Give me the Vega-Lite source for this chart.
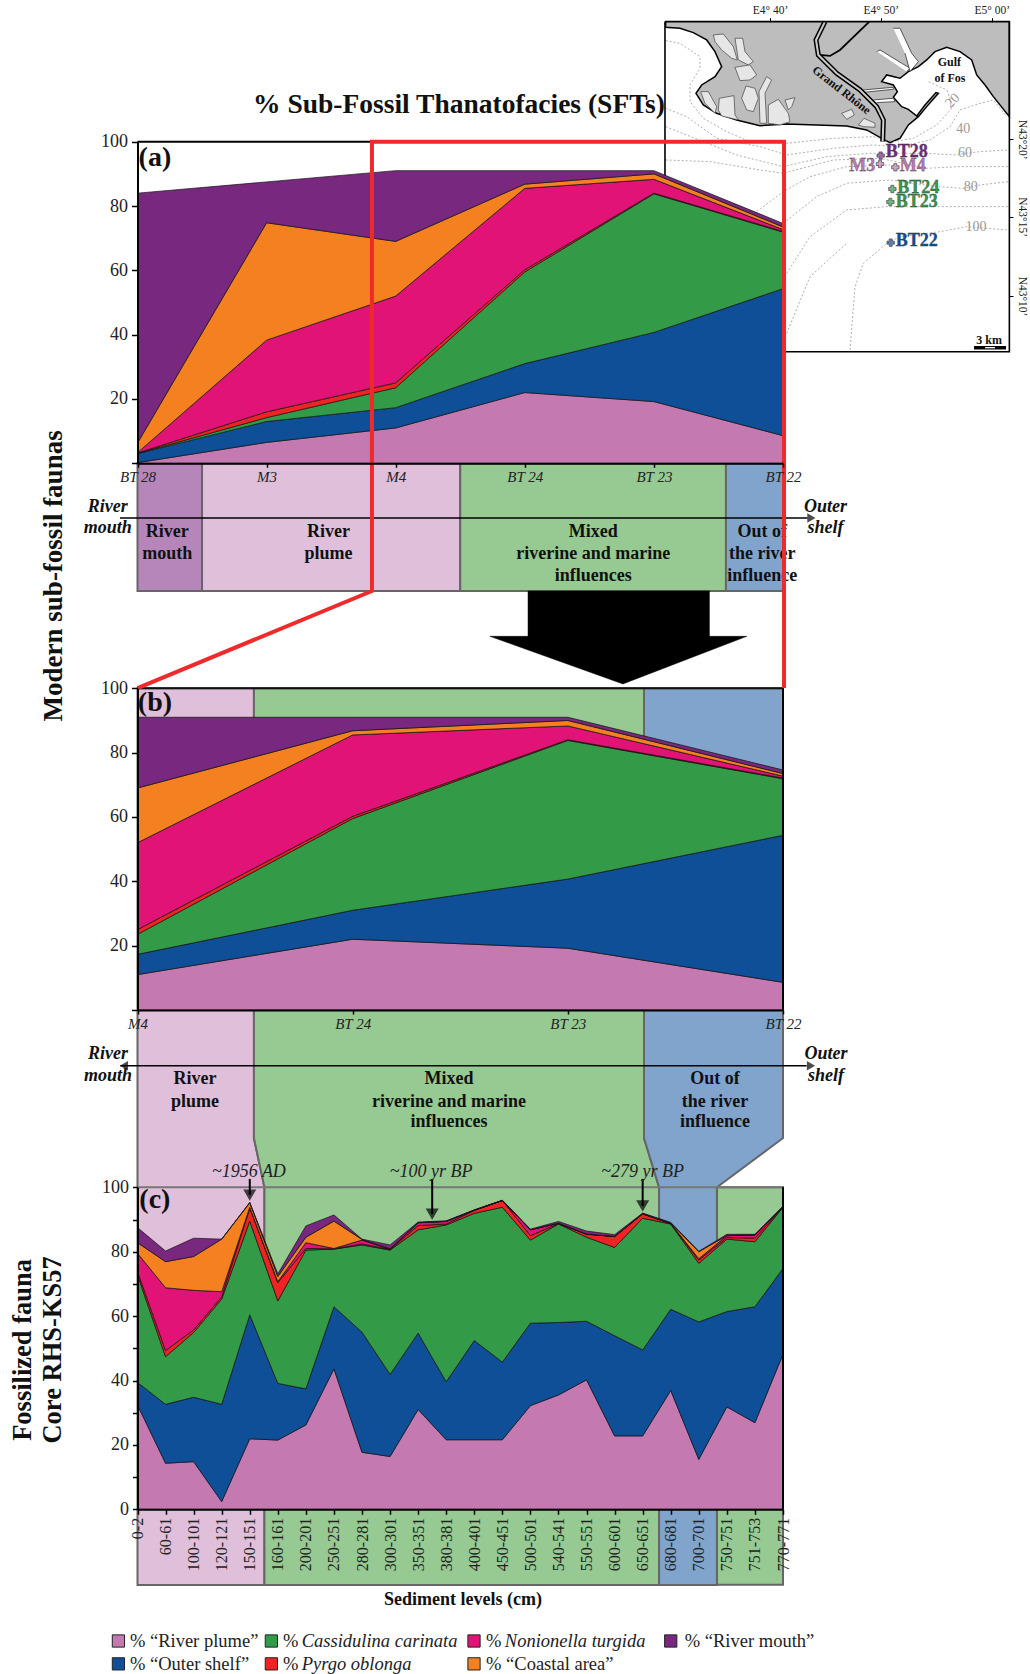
{"$schema":"https://vega.github.io/schema/vega-lite/v6.json","width":1030,"height":1674,"padding":0,"autosize":{"type":"none"},"background":"white",
"config":{"font":"Liberation Serif","view":{"stroke":null},"legend":{"disable":true},"range":{"category":["#C479B0","#0F4F98","#339B48","#EF2323","#E21376","#F58020","#78287E","#B686BA","#E0BFDB","#96CA92","#80A4CB"]},
"axis":{"grid":false,"labelFont":"Liberation Serif","labelColor":"#222","labelFlush":false,"labelBound":false,"labelOverlap":false,"domainColor":"#000","domainWidth":2,"tickColor":"#000","tickWidth":1.5}},
"datasets":{
"sites":[
{"station":"BT28","pos":0,"1 River plume":0.2,"2 Outer shelf":2.8,"3 Cassidulina carinata":0.1,"4 Pyrgo oblonga":0.1,"5 Nonionella turgida":0.1,"6 Coastal area":3,"7 River mouth":77.7},
{"station":"M3","pos":1,"1 River plume":6.5,"2 Outer shelf":6.5,"3 Cassidulina carinata":1.2,"4 Pyrgo oblonga":1.8,"5 Nonionella turgida":22.3,"6 Coastal area":36.5,"7 River mouth":12.7},
{"station":"M4","pos":2,"1 River plume":11,"2 Outer shelf":6.3,"3 Cassidulina carinata":6.2,"4 Pyrgo oblonga":1.5,"5 Nonionella turgida":27,"6 Coastal area":17,"7 River mouth":22},
{"station":"BT24","pos":3,"1 River plume":22,"2 Outer shelf":9,"3 Cassidulina carinata":28.5,"4 Pyrgo oblonga":0.7,"5 Nonionella turgida":25.3,"6 Coastal area":1.3,"7 River mouth":4.2},
{"station":"BT23","pos":4,"1 River plume":19.2,"2 Outer shelf":21.5,"3 Cassidulina carinata":43.1,"4 Pyrgo oblonga":0.2,"5 Nonionella turgida":4.3,"6 Coastal area":1.7,"7 River mouth":1},
{"station":"BT22","pos":5,"1 River plume":8.6,"2 Outer shelf":45.7,"3 Cassidulina carinata":17.6,"4 Pyrgo oblonga":0.2,"5 Nonionella turgida":0.6,"6 Coastal area":0.8,"7 River mouth":1.1}],
"levels":[
{"level":"0-2","pos":0,"1 River plume":32.4,"2 Outer shelf":7,"3 Cassidulina carinata":33.4,"4 Pyrgo oblonga":1,"5 Nonionella turgida":5.7,"6 Coastal area":3.3,"7 River mouth":4.7},
{"level":"60-61","pos":1,"1 River plume":14.3,"2 Outer shelf":18.3,"3 Cassidulina carinata":14.8,"4 Pyrgo oblonga":1.9,"5 Nonionella turgida":19.5,"6 Coastal area":8.1,"7 River mouth":3.3},
{"level":"100-101","pos":2,"1 River plume":14.8,"2 Outer shelf":20,"3 Cassidulina carinata":20.1,"4 Pyrgo oblonga":0.8,"5 Nonionella turgida":12.3,"6 Coastal area":10.5,"7 River mouth":5.7},
{"level":"120-121","pos":3,"1 River plume":2.4,"2 Outer shelf":30.2,"3 Cassidulina carinata":32.7,"4 Pyrgo oblonga":0.7,"5 Nonionella turgida":1.6,"6 Coastal area":16.3,"7 River mouth":0},
{"level":"150-151","pos":4,"1 River plume":21.9,"2 Outer shelf":38.5,"3 Cassidulina carinata":29.1,"4 Pyrgo oblonga":4,"5 Nonionella turgida":0.3,"6 Coastal area":1.4,"7 River mouth":0.1},
{"level":"160-161","pos":5,"1 River plume":21.5,"2 Outer shelf":17.6,"3 Cassidulina carinata":25.6,"4 Pyrgo oblonga":5.7,"5 Nonionella turgida":0.3,"6 Coastal area":1.6,"7 River mouth":0.8},
{"level":"200-201","pos":6,"1 River plume":26.2,"2 Outer shelf":11.2,"3 Cassidulina carinata":43.1,"4 Pyrgo oblonga":0.5,"5 Nonionella turgida":1.8,"6 Coastal area":1.7,"7 River mouth":3.5},
{"level":"250-251","pos":7,"1 River plume":43.6,"2 Outer shelf":19.3,"3 Cassidulina carinata":17.9,"4 Pyrgo oblonga":0.1,"5 Nonionella turgida":0.1,"6 Coastal area":8.5,"7 River mouth":1.9},
{"level":"280-281","pos":8,"1 River plume":17.7,"2 Outer shelf":37.3,"3 Cassidulina carinata":27.1,"4 Pyrgo oblonga":0.3,"5 Nonionella turgida":1.2,"6 Coastal area":0.2,"7 River mouth":0.1},
{"level":"300-301","pos":9,"1 River plume":16.4,"2 Outer shelf":25.5,"3 Cassidulina carinata":38.6,"4 Pyrgo oblonga":0.2,"5 Nonionella turgida":0.1,"6 Coastal area":0.1,"7 River mouth":1.2},
{"level":"350-351","pos":10,"1 River plume":31,"2 Outer shelf":23.7,"3 Cassidulina carinata":32.1,"4 Pyrgo oblonga":1.3,"5 Nonionella turgida":0.9,"6 Coastal area":0,"7 River mouth":0.2},
{"level":"380-381","pos":11,"1 River plume":21.6,"2 Outer shelf":18,"3 Cassidulina carinata":48.7,"4 Pyrgo oblonga":0.3,"5 Nonionella turgida":0.8,"6 Coastal area":0,"7 River mouth":0.2},
{"level":"400-401","pos":12,"1 River plume":21.6,"2 Outer shelf":30.8,"3 Cassidulina carinata":39.5,"4 Pyrgo oblonga":0.9,"5 Nonionella turgida":0.1,"6 Coastal area":0,"7 River mouth":0.1},
{"level":"450-451","pos":13,"1 River plume":21.6,"2 Outer shelf":24.1,"3 Cassidulina carinata":48.1,"4 Pyrgo oblonga":2.1,"5 Nonionella turgida":0,"6 Coastal area":0,"7 River mouth":0.1},
{"level":"500-501","pos":14,"1 River plume":32.2,"2 Outer shelf":25.6,"3 Cassidulina carinata":25.8,"4 Pyrgo oblonga":1.4,"5 Nonionella turgida":1.8,"6 Coastal area":0,"7 River mouth":0.2},
{"level":"540-541","pos":15,"1 River plume":35.5,"2 Outer shelf":22.5,"3 Cassidulina carinata":30.6,"4 Pyrgo oblonga":0.1,"5 Nonionella turgida":0.1,"6 Coastal area":0.1,"7 River mouth":0.5},
{"level":"550-551","pos":16,"1 River plume":40.2,"2 Outer shelf":18.2,"3 Cassidulina carinata":26.1,"4 Pyrgo oblonga":0.9,"5 Nonionella turgida":0.1,"6 Coastal area":0,"7 River mouth":0.9},
{"level":"600-601","pos":17,"1 River plume":22.8,"2 Outer shelf":31.1,"3 Cassidulina carinata":27.4,"4 Pyrgo oblonga":3.4,"5 Nonionella turgida":0,"6 Coastal area":0.1,"7 River mouth":0.5},
{"level":"650-651","pos":18,"1 River plume":22.8,"2 Outer shelf":26.7,"3 Cassidulina carinata":40.9,"4 Pyrgo oblonga":1.3,"5 Nonionella turgida":0.1,"6 Coastal area":0,"7 River mouth":0.2},
{"level":"680-681","pos":19,"1 River plume":36.9,"2 Outer shelf":25.2,"3 Cassidulina carinata":26.5,"4 Pyrgo oblonga":0.1,"5 Nonionella turgida":0.1,"6 Coastal area":0.1,"7 River mouth":0.2},
{"level":"700-701","pos":20,"1 River plume":15.5,"2 Outer shelf":42.7,"3 Cassidulina carinata":18.2,"4 Pyrgo oblonga":1,"5 Nonionella turgida":0.4,"6 Coastal area":2.2,"7 River mouth":0.1},
{"level":"750-751","pos":21,"1 River plume":31.8,"2 Outer shelf":29.6,"3 Cassidulina carinata":22.5,"4 Pyrgo oblonga":0.5,"5 Nonionella turgida":0.6,"6 Coastal area":0,"7 River mouth":0.4},
{"level":"751-753","pos":22,"1 River plume":26.9,"2 Outer shelf":36,"3 Cassidulina carinata":20.2,"4 Pyrgo oblonga":1.1,"5 Nonionella turgida":1,"6 Coastal area":0,"7 River mouth":0.2},
{"level":"770-771","pos":23,"1 River plume":48.2,"2 Outer shelf":26.6,"3 Cassidulina carinata":19,"4 Pyrgo oblonga":0.1,"5 Nonionella turgida":0.1,"6 Coastal area":0,"7 River mouth":0}],
"land":[{"mapX":17,"mapY":35},{"mapX":17,"mapY":52},{"mapX":60,"mapY":55},{"mapX":100,"mapY":68},{"mapX":140,"mapY":90},{"mapX":165,"mapY":125},{"mapX":185,"mapY":170},{"mapX":165,"mapY":200},{"mapX":125,"mapY":225},{"mapX":108,"mapY":250},{"mapX":130,"mapY":285},{"mapX":170,"mapY":310},{"mapX":230,"mapY":330},{"mapX":300,"mapY":347},{"mapX":380,"mapY":342},{"mapX":470,"mapY":345},{"mapX":560,"mapY":348},{"mapX":620,"mapY":360},{"mapX":665,"mapY":385},{"mapX":690,"mapY":398},{"mapX":720,"mapY":385},{"mapX":745,"mapY":345},{"mapX":775,"mapY":320},{"mapX":800,"mapY":290},{"mapX":835,"mapY":250},{"mapX":828,"mapY":248},{"mapX":795,"mapY":285},{"mapX":770,"mapY":318},{"mapX":745,"mapY":298},{"mapX":725,"mapY":290},{"mapX":700,"mapY":262},{"mapX":712,"mapY":245},{"mapX":700,"mapY":225},{"mapX":665,"mapY":215},{"mapX":680,"mapY":195},{"mapX":720,"mapY":205},{"mapX":745,"mapY":185},{"mapX":775,"mapY":170},{"mapX":800,"mapY":150},{"mapX":825,"mapY":125},{"mapX":860,"mapY":112},{"mapX":900,"mapY":125},{"mapX":935,"mapY":150},{"mapX":950,"mapY":195},{"mapX":975,"mapY":225},{"mapX":1000,"mapY":260},{"mapX":1048,"mapY":320},{"mapX":1048,"mapY":35}],
"islands":[
{"g":"1","mapX":160,"mapY":75},{"g":"1","mapX":190,"mapY":72},{"g":"1","mapX":220,"mapY":110},{"g":"1","mapX":232,"mapY":150},{"g":"1","mapX":215,"mapY":145},{"g":"1","mapX":185,"mapY":120},{"g":"1","mapX":165,"mapY":95},{"g":"1","mapX":160,"mapY":75},
{"g":"2","mapX":225,"mapY":85},{"g":"2","mapX":248,"mapY":85},{"g":"2","mapX":255,"mapY":125},{"g":"2","mapX":280,"mapY":155},{"g":"2","mapX":265,"mapY":165},{"g":"2","mapX":235,"mapY":150},{"g":"2","mapX":225,"mapY":85},
{"g":"3","mapX":225,"mapY":172},{"g":"3","mapX":270,"mapY":165},{"g":"3","mapX":290,"mapY":195},{"g":"3","mapX":270,"mapY":210},{"g":"3","mapX":240,"mapY":212},{"g":"3","mapX":225,"mapY":172},
{"g":"4","mapX":122,"mapY":245},{"g":"4","mapX":145,"mapY":245},{"g":"4","mapX":170,"mapY":290},{"g":"4","mapX":165,"mapY":310},{"g":"4","mapX":135,"mapY":280},{"g":"4","mapX":122,"mapY":245},
{"g":"5","mapX":178,"mapY":265},{"g":"5","mapX":222,"mapY":257},{"g":"5","mapX":225,"mapY":315},{"g":"5","mapX":235,"mapY":330},{"g":"5","mapX":185,"mapY":318},{"g":"5","mapX":175,"mapY":300},{"g":"5","mapX":178,"mapY":265},
{"g":"6","mapX":258,"mapY":228},{"g":"6","mapX":285,"mapY":235},{"g":"6","mapX":295,"mapY":265},{"g":"6","mapX":280,"mapY":305},{"g":"6","mapX":260,"mapY":300},{"g":"6","mapX":245,"mapY":265},{"g":"6","mapX":258,"mapY":228},
{"g":"7","mapX":320,"mapY":200},{"g":"7","mapX":335,"mapY":210},{"g":"7","mapX":315,"mapY":250},{"g":"7","mapX":320,"mapY":340},{"g":"7","mapX":300,"mapY":340},{"g":"7","mapX":297,"mapY":245},{"g":"7","mapX":320,"mapY":200},
{"g":"8","mapX":325,"mapY":285},{"g":"8","mapX":355,"mapY":268},{"g":"8","mapX":385,"mapY":310},{"g":"8","mapX":390,"mapY":335},{"g":"8","mapX":360,"mapY":345},{"g":"8","mapX":325,"mapY":340},{"g":"8","mapX":325,"mapY":285},
{"g":"9","mapX":375,"mapY":270},{"g":"9","mapX":405,"mapY":263},{"g":"9","mapX":395,"mapY":290},{"g":"9","mapX":385,"mapY":300},{"g":"9","mapX":375,"mapY":270},
{"g":"10","mapX":545,"mapY":310},{"g":"10","mapX":575,"mapY":298},{"g":"10","mapX":583,"mapY":315},{"g":"10","mapX":560,"mapY":328},{"g":"10","mapX":545,"mapY":310},
{"g":"11","mapX":595,"mapY":345},{"g":"11","mapX":612,"mapY":325},{"g":"11","mapX":645,"mapY":340},{"g":"11","mapX":645,"mapY":352},{"g":"11","mapX":610,"mapY":350},{"g":"11","mapX":595,"mapY":345}],
"docks":[
{"g":"a","mapX":650,"mapY":125},{"g":"a","mapX":660,"mapY":120},{"g":"a","mapX":750,"mapY":175},{"g":"a","mapX":740,"mapY":185},
{"g":"b","mapX":700,"mapY":55},{"g":"b","mapX":720,"mapY":55},{"g":"b","mapX":755,"mapY":130},{"g":"b","mapX":775,"mapY":155},{"g":"b","mapX":750,"mapY":185},{"g":"b","mapX":735,"mapY":130},
{"g":"c","mapX":610,"mapY":240},{"g":"c","mapX":700,"mapY":232},{"g":"c","mapX":700,"mapY":238},{"g":"c","mapX":612,"mapY":247},
{"g":"d","mapX":640,"mapY":270},{"g":"d","mapX":700,"mapY":265},{"g":"d","mapX":705,"mapY":275},{"g":"d","mapX":650,"mapY":278}],
"rhone":[{"mapX":495,"mapY":35},{"mapX":468,"mapY":90},{"mapX":475,"mapY":135},{"mapX":530,"mapY":190},{"mapX":600,"mapY":240},{"mapX":650,"mapY":290},{"mapX":670,"mapY":330},{"mapX":668,"mapY":395}],
"canal":[{"mapX":628,"mapY":35},{"mapX":540,"mapY":120},{"mapX":510,"mapY":138},{"mapX":478,"mapY":135}],
"frame":[{"mapX":15,"mapY":35},{"mapX":1048,"mapY":35},{"mapX":1048,"mapY":1025},{"mapX":15,"mapY":1025},{"mapX":15,"mapY":35}],
"isobaths":[
{"g":"1","mapX":17,"mapY":92},{"g":"1","mapX":60,"mapY":100},{"g":"1","mapX":120,"mapY":140},{"g":"1","mapX":120,"mapY":175},{"g":"1","mapX":90,"mapY":225},{"g":"1","mapX":90,"mapY":275},{"g":"1","mapX":130,"mapY":325},{"g":"1","mapX":200,"mapY":365},{"g":"1","mapX":270,"mapY":395},{"g":"1","mapX":380,"mapY":400},{"g":"1","mapX":520,"mapY":385},{"g":"1","mapX":640,"mapY":380},{"g":"1","mapX":700,"mapY":395},{"g":"1","mapX":760,"mapY":385},{"g":"1","mapX":830,"mapY":345},{"g":"1","mapX":880,"mapY":290},{"g":"1","mapX":860,"mapY":240},{"g":"1","mapX":805,"mapY":215},
{"g":"2","mapX":17,"mapY":295},{"g":"2","mapX":80,"mapY":320},{"g":"2","mapX":170,"mapY":385},{"g":"2","mapX":300,"mapY":410},{"g":"2","mapX":380,"mapY":435},{"g":"2","mapX":520,"mapY":415},{"g":"2","mapX":640,"mapY":405},{"g":"2","mapX":720,"mapY":410},{"g":"2","mapX":810,"mapY":390},{"g":"2","mapX":870,"mapY":350},{"g":"2","mapX":900,"mapY":300},{"g":"2","mapX":960,"mapY":280},{"g":"2","mapX":1000,"mapY":270},{"g":"2","mapX":1040,"mapY":320},
{"g":"3","mapX":17,"mapY":350},{"g":"3","mapX":130,"mapY":395},{"g":"3","mapX":230,"mapY":435},{"g":"3","mapX":370,"mapY":470},{"g":"3","mapX":500,"mapY":440},{"g":"3","mapX":630,"mapY":430},{"g":"3","mapX":800,"mapY":430},{"g":"3","mapX":880,"mapY":435},{"g":"3","mapX":960,"mapY":425},{"g":"3","mapX":1045,"mapY":420},
{"g":"4","mapX":17,"mapY":450},{"g":"4","mapX":150,"mapY":455},{"g":"4","mapX":300,"mapY":480},{"g":"4","mapX":370,"mapY":490},{"g":"4","mapX":520,"mapY":450},{"g":"4","mapX":660,"mapY":445},{"g":"4","mapX":800,"mapY":475},{"g":"4","mapX":900,"mapY":470},{"g":"4","mapX":1045,"mapY":470},
{"g":"5","mapX":290,"mapY":605},{"g":"5","mapX":370,"mapY":545},{"g":"5","mapX":450,"mapY":500},{"g":"5","mapX":560,"mapY":470},{"g":"5","mapX":690,"mapY":465},
{"g":"6","mapX":370,"mapY":640},{"g":"6","mapX":470,"mapY":560},{"g":"6","mapX":560,"mapY":520},{"g":"6","mapX":690,"mapY":510},{"g":"6","mapX":830,"mapY":530},{"g":"6","mapX":910,"mapY":535},{"g":"6","mapX":960,"mapY":525},{"g":"6","mapX":1045,"mapY":515},
{"g":"7","mapX":380,"mapY":790},{"g":"7","mapX":450,"mapY":680},{"g":"7","mapX":560,"mapY":600},{"g":"7","mapX":680,"mapY":590},{"g":"7","mapX":830,"mapY":590},{"g":"7","mapX":960,"mapY":590},{"g":"7","mapX":1045,"mapY":590},
{"g":"8","mapX":570,"mapY":1020},{"g":"8","mapX":585,"mapY":830},{"g":"8","mapX":610,"mapY":760},{"g":"8","mapX":680,"mapY":700},{"g":"8","mapX":720,"mapY":680},{"g":"8","mapX":840,"mapY":665},{"g":"8","mapX":920,"mapY":650},{"g":"8","mapX":1040,"mapY":660},
{"g":"9","mapX":380,"mapY":970},{"g":"9","mapX":450,"mapY":800},{"g":"9","mapX":560,"mapY":700}],
"bandsB":[
{"band":"B2 River plume","pct":100,"x0":2,"x1":2.541},{"band":"B2 River plume","pct":-39.8,"x0":2,"x1":2.541},{"band":"B2 River plume","pct":-55.1,"x0":2,"x1":2.59},{"band":"B2 River plume","pct":-178.7,"x0":2,"x1":2.59},
{"band":"B3 Mixed","pct":100,"x0":2.541,"x1":4.354},{"band":"B3 Mixed","pct":-39.8,"x0":2.541,"x1":4.354},{"band":"B3 Mixed","pct":-55.1,"x0":2.59,"x1":4.424},{"band":"B3 Mixed","pct":-178.7,"x0":2.59,"x1":4.424},
{"band":"B4 Out of the river","pct":100,"x0":4.354,"x1":5},{"band":"B4 Out of the river","pct":-39.8,"x0":4.354,"x1":5},{"band":"B4 Out of the river","pct":-55.1,"x0":4.424,"x1":4.693},{"band":"B4 Out of the river","pct":-178.7,"x0":4.424,"x1":4.693}],
"bandsC":[{"band":"B3 Mixed","x0":20.65,"x1":23,"top":100,"bottom":-23.4}]
},
"resolve":{"scale":{"x":"independent","y":"independent"}},
"layer":[
{"layer":[
{"data":{"name":"land"},"mark":{"type":"line","order":null,"fill":"#BDBDBD","stroke":"#000","strokeWidth":1.5},"encoding":{"x":{"field":"mapX","type":"quantitative","scale":{"domain":[330,995],"range":[770,991.7],"nice":false,"zero":false},"axis":{"zindex":1,"title":null,"orient":"top","offset":-21.7,"values":[330,662.5,995],"labelExpr":"datum.value<400?'E4° 40’':datum.value<700?'E4° 50’':'E5° 00’'","domain":false,"tickSize":4,"tickWidth":1,"labelFontSize":11.5,"labelPadding":2}},"y":{"field":"mapY","type":"quantitative","scale":{"domain":[858,388],"range":[296,139.3],"nice":false,"zero":false},"axis":{"zindex":1,"title":null,"orient":"right","offset":-21,"values":[858,620,388],"labelExpr":"datum.value>800?'N43°10’':datum.value>500?'N43°15’':'N43°20’'","domain":false,"tickSize":4,"tickWidth":1,"labelFontSize":11.5,"labelAngle":90,"labelAlign":"center","labelBaseline":"bottom","labelPadding":3}}}},
{"data":{"name":"docks"},"mark":{"type":"line","order":null,"fill":"#fff","stroke":"#333","strokeWidth":0.8},"encoding":{"detail":{"field":"g"},"x":{"field":"mapX","type":"quantitative","scale":{"domain":[330,995],"range":[770,991.7],"nice":false,"zero":false}},"y":{"field":"mapY","type":"quantitative","scale":{"domain":[858,388],"range":[296,139.3],"nice":false,"zero":false}}}},
{"data":{"name":"islands"},"mark":{"type":"line","order":null,"fill":"#E6E6E6","stroke":"#444","strokeWidth":0.7},"encoding":{"detail":{"field":"g"},"x":{"field":"mapX","type":"quantitative","scale":{"domain":[330,995],"range":[770,991.7],"nice":false,"zero":false}},"y":{"field":"mapY","type":"quantitative","scale":{"domain":[858,388],"range":[296,139.3],"nice":false,"zero":false}}}},
{"data":{"name":"isobaths"},"mark":{"type":"line","order":null,"stroke":"#9a9a9a","strokeWidth":0.8,"strokeDash":[2,2]},"encoding":{"detail":{"field":"g"},"x":{"field":"mapX","type":"quantitative","scale":{"domain":[330,995],"range":[770,991.7],"nice":false,"zero":false}},"y":{"field":"mapY","type":"quantitative","scale":{"domain":[858,388],"range":[296,139.3],"nice":false,"zero":false}}}},
{"data":{"name":"canal"},"mark":{"type":"line","order":null,"stroke":"#000","strokeWidth":1.8},"encoding":{"x":{"field":"mapX","type":"quantitative","scale":{"domain":[330,995],"range":[770,991.7],"nice":false,"zero":false}},"y":{"field":"mapY","type":"quantitative","scale":{"domain":[858,388],"range":[296,139.3],"nice":false,"zero":false}}}},
{"data":{"name":"rhone"},"mark":{"type":"line","order":null,"stroke":"#000","strokeWidth":5},"encoding":{"x":{"field":"mapX","type":"quantitative","scale":{"domain":[330,995],"range":[770,991.7],"nice":false,"zero":false}},"y":{"field":"mapY","type":"quantitative","scale":{"domain":[858,388],"range":[296,139.3],"nice":false,"zero":false}}}},
{"data":{"name":"rhone"},"mark":{"type":"line","order":null,"stroke":"#ccc","strokeWidth":2},"encoding":{"x":{"field":"mapX","type":"quantitative","scale":{"domain":[330,995],"range":[770,991.7],"nice":false,"zero":false}},"y":{"field":"mapY","type":"quantitative","scale":{"domain":[858,388],"range":[296,139.3],"nice":false,"zero":false}}}},
{"data":{"name":"frame"},"mark":{"type":"line","order":null,"stroke":"#000","strokeWidth":1.6},"encoding":{"x":{"field":"mapX","type":"quantitative","scale":{"domain":[330,995],"range":[770,991.7],"nice":false,"zero":false}},"y":{"field":"mapY","type":"quantitative","scale":{"domain":[858,388],"range":[296,139.3],"nice":false,"zero":false}}}},
{"data":{"values":[{"mapX":878,"mapY":272,"t":"20"}]},"mark":{"type":"text","fontSize":14,"color":"#999","angle":315},"encoding":{"text":{"field":"t"},"x":{"field":"mapX","type":"quantitative","scale":{"domain":[330,995],"range":[770,991.7],"nice":false,"zero":false}},"y":{"field":"mapY","type":"quantitative","scale":{"domain":[858,388],"range":[296,139.3],"nice":false,"zero":false}}}},
{"data":{"values":[{"mapX":910,"mapY":357,"t":"40"},{"mapX":915,"mapY":430,"t":"60"},{"mapX":932,"mapY":532,"t":"80"},{"mapX":948,"mapY":652,"t":"100"}]},"mark":{"type":"text","fontSize":14,"color":"#999"},"encoding":{"text":{"field":"t"},"x":{"field":"mapX","type":"quantitative","scale":{"domain":[330,995],"range":[770,991.7],"nice":false,"zero":false}},"y":{"field":"mapY","type":"quantitative","scale":{"domain":[858,388],"range":[296,139.3],"nice":false,"zero":false}}}},
{"data":{"values":[{"mapX":868,"mapY":157,"t":"Gulf"},{"mapX":870,"mapY":205,"t":"of Fos"},{"mapX":987,"mapY":990,"t":"3 km"}]},"mark":{"type":"text","fontSize":12,"fontWeight":"bold","color":"#111"},"encoding":{"text":{"field":"t"},"x":{"field":"mapX","type":"quantitative","scale":{"domain":[330,995],"range":[770,991.7],"nice":false,"zero":false}},"y":{"field":"mapY","type":"quantitative","scale":{"domain":[858,388],"range":[296,139.3],"nice":false,"zero":false}}}},
{"data":{"values":[{"mapX":545,"mapY":240,"t":"Grand Rhône"}]},"mark":{"type":"text","fontSize":12,"fontWeight":"bold","color":"#111","angle":38},"encoding":{"text":{"field":"t"},"x":{"field":"mapX","type":"quantitative","scale":{"domain":[330,995],"range":[770,991.7],"nice":false,"zero":false}},"y":{"field":"mapY","type":"quantitative","scale":{"domain":[858,388],"range":[296,139.3],"nice":false,"zero":false}}}},
{"data":{"values":[{"mapX":942,"mapY":1013,"end":1038}]},"mark":{"type":"rule","stroke":"#000","strokeWidth":3.5},"encoding":{"x":{"field":"mapX","type":"quantitative","scale":{"domain":[330,995],"range":[770,991.7],"nice":false,"zero":false}},"x2":{"field":"end"},"y":{"field":"mapY","type":"quantitative","scale":{"domain":[858,388],"range":[296,139.3],"nice":false,"zero":false}}}},
{"data":{"values":[{"mapX":975,"mapY":1013,"end":1005}]},"mark":{"type":"rule","stroke":"#fff","strokeWidth":1.3},"encoding":{"x":{"field":"mapX","type":"quantitative","scale":{"domain":[330,995],"range":[770,991.7],"nice":false,"zero":false}},"x2":{"field":"end"},"y":{"field":"mapY","type":"quantitative","scale":{"domain":[858,388],"range":[296,139.3],"nice":false,"zero":false}}}},
{"data":{"values":[{"mapX":662,"mapY":437,"zone":"7 River mouth"},{"mapX":660,"mapY":462,"zone":"1 River plume"},{"mapX":706,"mapY":472,"zone":"1 River plume"},{"mapX":697,"mapY":537,"zone":"3 Cassidulina carinata"},{"mapX":691,"mapY":576,"zone":"3 Cassidulina carinata"},{"mapX":692,"mapY":698,"zone":"2 Outer shelf"}]},"mark":{"type":"point","shape":"cross","filled":true,"size":55,"stroke":"#111","strokeWidth":0.8},"encoding":{"color":{"field":"zone"},"x":{"field":"mapX","type":"quantitative","scale":{"domain":[330,995],"range":[770,991.7],"nice":false,"zero":false}},"y":{"field":"mapY","type":"quantitative","scale":{"domain":[858,388],"range":[296,139.3],"nice":false,"zero":false}}}},
{"data":{"values":[{"mapX":740,"mapY":427,"t":"BT28","zone":"7 River mouth"},{"mapX":607,"mapY":468,"t":"M3","zone":"1 River plume"},{"mapX":758,"mapY":468,"t":"M4","zone":"1 River plume"},{"mapX":775,"mapY":535,"t":"BT24","zone":"3 Cassidulina carinata"},{"mapX":770,"mapY":575,"t":"BT23","zone":"3 Cassidulina carinata"},{"mapX":770,"mapY":694,"t":"BT22","zone":"2 Outer shelf"}]},"mark":{"type":"text","fontSize":18,"fontWeight":"bold","stroke":"#333","strokeWidth":0.3},"encoding":{"text":{"field":"t"},"color":{"field":"zone"},"x":{"field":"mapX","type":"quantitative","scale":{"domain":[330,995],"range":[770,991.7],"nice":false,"zero":false}},"y":{"field":"mapY","type":"quantitative","scale":{"domain":[858,388],"range":[296,139.3],"nice":false,"zero":false}}}}
]},
{"layer":[
{"data":{"name":"bandsB"},"mark":{"type":"area","orient":"horizontal","stroke":"#666","strokeWidth":2},"encoding":{"color":{"field":"band"},"detail":{"field":"band"},"y":{"field":"pct","type":"quantitative","scale":{"domain":[0,100],"range":[1010,688.3],"nice":false,"zero":false}},"x":{"field":"x0","type":"quantitative","stack":null,"scale":{"domain":[2,5],"range":[137.5,783],"nice":false,"zero":false}},"x2":{"field":"x1"}}},
{"data":{"name":"sites"},"transform":[{"filter":"datum.pos>=2"},{"fold":["1 River plume","2 Outer shelf","3 Cassidulina carinata","4 Pyrgo oblonga","5 Nonionella turgida","6 Coastal area","7 River mouth"],"as":["taxon","pct"]}],"mark":{"type":"area","stroke":"#111","strokeWidth":0.7},"encoding":{"color":{"field":"taxon"},"order":{"field":"taxon","type":"ordinal","sort":"ascending"},"x":{"field":"pos","type":"quantitative","scale":{"domain":[2,5],"range":[137.5,783],"nice":false,"zero":false},"axis":{"zindex":1,"title":null,"orient":"bottom","offset":-664,"values":[2,3,4,5],"labelExpr":"['BT28','M3','M4','BT 24','BT 23','BT 22'][datum.value]","labelFontStyle":"italic","labelFontSize":15,"tickSize":4,"labelPadding":2}},"y":{"field":"pct","type":"quantitative","stack":"zero","scale":{"domain":[0,100],"range":[1010,688.3],"nice":false,"zero":false},"axis":{"zindex":1,"title":null,"orient":"left","offset":-137.5,"values":[0,20,40,60,80,100],"labelExpr":"datum.value==0?'':datum.label","labelFontSize":18,"tickSize":6,"labelPadding":4}}}},
{"data":{"values":[{"pos":2,"pct":100,"end":5}]},"mark":{"type":"rule","stroke":"#111","strokeWidth":2},"encoding":{"x":{"field":"pos","type":"quantitative","scale":{"domain":[2,5],"range":[137.5,783],"nice":false,"zero":false}},"x2":{"field":"end"},"y":{"field":"pct","type":"quantitative","scale":{"domain":[0,100],"range":[1010,688.3],"nice":false,"zero":false}}}},
{"data":{"values":[{"pos":5,"pct":0,"end":100}]},"mark":{"type":"rule","stroke":"#000","strokeWidth":2},"encoding":{"x":{"field":"pos","type":"quantitative","scale":{"domain":[2,5],"range":[137.5,783],"nice":false,"zero":false}},"y":{"field":"pct","type":"quantitative","scale":{"domain":[0,100],"range":[1010,688.3],"nice":false,"zero":false}},"y2":{"field":"end"}}},
{"data":{"values":[{"pos":1.92,"pct":-17.3,"end":5.11}]},"mark":{"type":"rule","stroke":"#000","strokeWidth":1.5},"encoding":{"x":{"field":"pos","type":"quantitative","scale":{"domain":[2,5],"range":[137.5,783],"nice":false,"zero":false}},"x2":{"field":"end"},"y":{"field":"pct","type":"quantitative","scale":{"domain":[0,100],"range":[1010,688.3],"nice":false,"zero":false}}}},
{"data":{"values":[{"pos":1.937,"pct":-17.3}]},"mark":{"type":"point","shape":"triangle-left","filled":true,"color":"#000","size":90},"encoding":{"x":{"field":"pos","type":"quantitative","scale":{"domain":[2,5],"range":[137.5,783],"nice":false,"zero":false}},"y":{"field":"pct","type":"quantitative","scale":{"domain":[0,100],"range":[1010,688.3],"nice":false,"zero":false}}}},
{"data":{"values":[{"pos":5.13,"pct":-17.3}]},"mark":{"type":"point","shape":"triangle-right","filled":true,"color":"#000","size":90},"encoding":{"x":{"field":"pos","type":"quantitative","scale":{"domain":[2,5],"range":[137.5,783],"nice":false,"zero":false}},"y":{"field":"pct","type":"quantitative","scale":{"domain":[0,100],"range":[1010,688.3],"nice":false,"zero":false}}}},
{"data":{"values":[{"pos":2.267,"pct":-21.4,"t":"River"},{"pos":2.267,"pct":-28.6,"t":"plume"},{"pos":3.448,"pct":-21.4,"t":"Mixed"},{"pos":3.448,"pct":-28.6,"t":"riverine and marine"},{"pos":3.448,"pct":-34.8,"t":"influences"},{"pos":4.684,"pct":-21.4,"t":"Out of"},{"pos":4.684,"pct":-28.6,"t":"the river"},{"pos":4.684,"pct":-34.8,"t":"influence"}]},"mark":{"type":"text","fontSize":18,"fontWeight":"bold","color":"#111"},"encoding":{"text":{"field":"t"},"x":{"field":"pos","type":"quantitative","scale":{"domain":[2,5],"range":[137.5,783],"nice":false,"zero":false}},"y":{"field":"pct","type":"quantitative","scale":{"domain":[0,100],"range":[1010,688.3],"nice":false,"zero":false}}}},
{"data":{"values":[{"pos":1.863,"pct":-13.7,"t":"River"},{"pos":1.863,"pct":-20.5,"t":"mouth"},{"pos":5.2,"pct":-13.7,"t":"Outer"},{"pos":5.2,"pct":-20.5,"t":"shelf"}]},"mark":{"type":"text","fontSize":18,"fontWeight":"bold","fontStyle":"italic","color":"#111"},"encoding":{"text":{"field":"t"},"x":{"field":"pos","type":"quantitative","scale":{"domain":[2,5],"range":[137.5,783],"nice":false,"zero":false}},"y":{"field":"pct","type":"quantitative","scale":{"domain":[0,100],"range":[1010,688.3],"nice":false,"zero":false}}}},
{"data":{"values":[{"pos":2.081,"pct":95.4,"t":"(b)"}]},"mark":{"type":"text","fontSize":28,"fontWeight":"bold","color":"#111"},"encoding":{"text":{"field":"t"},"x":{"field":"pos","type":"quantitative","scale":{"domain":[2,5],"range":[137.5,783],"nice":false,"zero":false}},"y":{"field":"pct","type":"quantitative","scale":{"domain":[0,100],"range":[1010,688.3],"nice":false,"zero":false}}}}
]},
{"layer":[
{"data":{"name":"bandsC"},"mark":{"type":"rect","stroke":"#666","strokeWidth":2},"encoding":{"color":{"field":"band"},"x":{"field":"x0","type":"quantitative","scale":{"domain":[0,23],"range":[137.5,783],"nice":false,"zero":false}},"x2":{"field":"x1"},"y":{"field":"top","type":"quantitative","scale":{"domain":[0,100],"range":[1509.3,1187.3],"nice":false,"zero":false}},"y2":{"field":"bottom"}}},
{"data":{"name":"levels"},"transform":[{"fold":["1 River plume","2 Outer shelf","3 Cassidulina carinata","4 Pyrgo oblonga","5 Nonionella turgida","6 Coastal area","7 River mouth"],"as":["taxon","pct"]}],"mark":{"type":"area","stroke":"#111","strokeWidth":0.7},"encoding":{"color":{"field":"taxon"},"order":{"field":"taxon","type":"ordinal","sort":"ascending"},"x":{"field":"pos","type":"quantitative","scale":{"domain":[0,23],"range":[137.5,783],"nice":false,"zero":false},"axis":{"zindex":1,"title":null,"orient":"bottom","offset":-164.7,"values":[0,1,2,3,4,5,6,7,8,9,10,11,12,13,14,15,16,17,18,19,20,21,22,23],"labelExpr":"['0-2','60-61','100-101','120-121','150-151','160-161','200-201','250-251','280-281','300-301','350-351','380-381','400-401','450-451','500-501','540-541','550-551','600-601','650-651','680-681','700-701','750-751','751-753','770-771'][datum.value]","labelAngle":-90,"labelAlign":"right","labelBaseline":"middle","labelFontSize":16,"tickSize":5,"labelPadding":3}},"y":{"field":"pct","type":"quantitative","stack":"zero","scale":{"domain":[0,100],"range":[1509.3,1187.3],"nice":false,"zero":false},"axis":{"zindex":1,"title":null,"orient":"left","offset":-137.5,"values":[0,10,20,30,40,50,60,70,80,90,100],"labelExpr":"datum.value%20==0?datum.label:''","labelFontSize":18,"tickSize":5,"labelPadding":4}}}},
{"data":{"values":[{"pos":0,"pct":100,"end":23}]},"mark":{"type":"rule","stroke":"#777","strokeWidth":2},"encoding":{"x":{"field":"pos","type":"quantitative","scale":{"domain":[0,23],"range":[137.5,783],"nice":false,"zero":false}},"x2":{"field":"end"},"y":{"field":"pct","type":"quantitative","scale":{"domain":[0,100],"range":[1509.3,1187.3],"nice":false,"zero":false}}}},
{"data":{"values":[{"pos":23,"pct":0,"end":100}]},"mark":{"type":"rule","stroke":"#000","strokeWidth":2},"encoding":{"x":{"field":"pos","type":"quantitative","scale":{"domain":[0,23],"range":[137.5,783],"nice":false,"zero":false}},"y":{"field":"pct","type":"quantitative","scale":{"domain":[0,100],"range":[1509.3,1187.3],"nice":false,"zero":false}},"y2":{"field":"end"}}},
{"data":{"values":[{"pos":4,"pct":102.6,"end":97.6},{"pos":10.5,"pct":102.6,"end":91.7},{"pos":18,"pct":102.6,"end":94.2}]},"mark":{"type":"rule","stroke":"#000","strokeWidth":2},"encoding":{"x":{"field":"pos","type":"quantitative","scale":{"domain":[0,23],"range":[137.5,783],"nice":false,"zero":false}},"y":{"field":"pct","type":"quantitative","scale":{"domain":[0,100],"range":[1509.3,1187.3],"nice":false,"zero":false}},"y2":{"field":"end"}}},
{"data":{"values":[{"pos":4,"pct":97.6},{"pos":10.5,"pct":91.7},{"pos":18,"pct":94.2}]},"mark":{"type":"point","shape":"triangle-down","filled":true,"color":"#000","size":170},"encoding":{"x":{"field":"pos","type":"quantitative","scale":{"domain":[0,23],"range":[137.5,783],"nice":false,"zero":false}},"y":{"field":"pct","type":"quantitative","scale":{"domain":[0,100],"range":[1509.3,1187.3],"nice":false,"zero":false}}}},
{"data":{"values":[{"pos":3.97,"pct":104.8,"t":"~1956 AD"},{"pos":10.46,"pct":104.8,"t":"~100 yr BP"},{"pos":18,"pct":104.8,"t":"~279 yr BP"}]},"mark":{"type":"text","fontSize":18,"fontStyle":"italic","color":"#222"},"encoding":{"text":{"field":"t"},"x":{"field":"pos","type":"quantitative","scale":{"domain":[0,23],"range":[137.5,783],"nice":false,"zero":false}},"y":{"field":"pct","type":"quantitative","scale":{"domain":[0,100],"range":[1509.3,1187.3],"nice":false,"zero":false}}}},
{"data":{"values":[{"pos":0.62,"pct":96,"t":"(c)"}]},"mark":{"type":"text","fontSize":28,"fontWeight":"bold","color":"#111"},"encoding":{"text":{"field":"t"},"x":{"field":"pos","type":"quantitative","scale":{"domain":[0,23],"range":[137.5,783],"nice":false,"zero":false}},"y":{"field":"pct","type":"quantitative","scale":{"domain":[0,100],"range":[1509.3,1187.3],"nice":false,"zero":false}}}},
{"data":{"values":[{"pos":11.6,"pct":-28.2,"t":"Sediment levels (cm)"}]},"mark":{"type":"text","fontSize":18,"fontWeight":"bold","color":"#111"},"encoding":{"text":{"field":"t"},"x":{"field":"pos","type":"quantitative","scale":{"domain":[0,23],"range":[137.5,783],"nice":false,"zero":false}},"y":{"field":"pct","type":"quantitative","scale":{"domain":[0,100],"range":[1509.3,1187.3],"nice":false,"zero":false}}}},
{"data":{"values":[{"pos":-4.08,"pct":49.5,"t":"Fossilized fauna"},{"pos":-3.01,"pct":49.5,"t":"Core RHS-KS57"}]},"mark":{"type":"text","fontSize":26.5,"fontWeight":"bold","color":"#111","angle":270},"encoding":{"text":{"field":"t"},"x":{"field":"pos","type":"quantitative","scale":{"domain":[0,23],"range":[137.5,783],"nice":false,"zero":false}},"y":{"field":"pct","type":"quantitative","scale":{"domain":[0,100],"range":[1509.3,1187.3],"nice":false,"zero":false}}}},
{"data":{"values":[{"pos":-0.68,"pct":-40.9,"taxon":"1 River plume"},{"pos":-0.68,"pct":-48,"taxon":"2 Outer shelf"},{"pos":4.77,"pct":-40.9,"taxon":"3 Cassidulina carinata"},{"pos":4.77,"pct":-48,"taxon":"4 Pyrgo oblonga"},{"pos":11.99,"pct":-40.9,"taxon":"5 Nonionella turgida"},{"pos":11.99,"pct":-48,"taxon":"6 Coastal area"},{"pos":19,"pct":-40.9,"taxon":"7 River mouth"}]},"mark":{"type":"point","shape":"square","filled":true,"opacity":1,"size":150,"stroke":"#222","strokeWidth":1},"encoding":{"color":{"field":"taxon"},"x":{"field":"pos","type":"quantitative","scale":{"domain":[0,23],"range":[137.5,783],"nice":false,"zero":false}},"y":{"field":"pct","type":"quantitative","scale":{"domain":[0,100],"range":[1509.3,1187.3],"nice":false,"zero":false}}}},
{"data":{"values":[{"pos":-0.27,"pct":-40.9,"t":"% “River plume”"},{"pos":-0.27,"pct":-48,"t":"% “Outer shelf”"},{"pos":5.18,"pct":-40.9,"t":"%"},{"pos":5.18,"pct":-48,"t":"%"},{"pos":12.42,"pct":-40.9,"t":"%"},{"pos":12.42,"pct":-48,"t":"% “Coastal area”"},{"pos":19.5,"pct":-40.9,"t":"% “River mouth”"}]},"mark":{"type":"text","fontSize":18.5,"align":"left","color":"#222"},"encoding":{"text":{"field":"t"},"x":{"field":"pos","type":"quantitative","scale":{"domain":[0,23],"range":[137.5,783],"nice":false,"zero":false}},"y":{"field":"pct","type":"quantitative","scale":{"domain":[0,100],"range":[1509.3,1187.3],"nice":false,"zero":false}}}},
{"data":{"values":[{"pos":5.85,"pct":-40.9,"t":"Cassidulina carinata"},{"pos":5.85,"pct":-48,"t":"Pyrgo oblonga"},{"pos":13.09,"pct":-40.9,"t":"Nonionella turgida"}]},"mark":{"type":"text","fontSize":18.5,"fontStyle":"italic","align":"left","color":"#222"},"encoding":{"text":{"field":"t"},"x":{"field":"pos","type":"quantitative","scale":{"domain":[0,23],"range":[137.5,783],"nice":false,"zero":false}},"y":{"field":"pct","type":"quantitative","scale":{"domain":[0,100],"range":[1509.3,1187.3],"nice":false,"zero":false}}}}
]},
{"layer":[
{"data":{"values":[{"band":"B1 River mouth","x0":0,"x1":0.5,"top":0,"bottom":-39.7},{"band":"B2 River plume","x0":0.5,"x1":2.5,"top":0,"bottom":-39.7},{"band":"B3 Mixed","x0":2.5,"x1":4.558,"top":0,"bottom":-39.7},{"band":"B4 Out of the river","x0":4.558,"x1":5,"top":0,"bottom":-39.7}]},"mark":{"type":"rect","stroke":"#666","strokeWidth":2},"encoding":{"color":{"field":"band"},"x":{"field":"x0","type":"quantitative","scale":{"domain":[0,5],"range":[137.5,783],"nice":false,"zero":false}},"x2":{"field":"x1"},"y":{"field":"top","type":"quantitative","scale":{"domain":[0,100],"range":[463.3,141.7],"nice":false,"zero":false}},"y2":{"field":"bottom"}}},
{"data":{"name":"sites"},"transform":[{"fold":["1 River plume","2 Outer shelf","3 Cassidulina carinata","4 Pyrgo oblonga","5 Nonionella turgida","6 Coastal area","7 River mouth"],"as":["taxon","pct"]}],"mark":{"type":"area","stroke":"#111","strokeWidth":0.7},"encoding":{"color":{"field":"taxon"},"order":{"field":"taxon","type":"ordinal","sort":"ascending"},"x":{"field":"pos","type":"quantitative","scale":{"domain":[0,5],"range":[137.5,783],"nice":false,"zero":false},"axis":{"zindex":1,"title":null,"orient":"bottom","offset":-1210.7,"values":[0,1,2,3,4,5],"labelExpr":"['BT 28','M3','M4','BT 24','BT 23','BT 22'][datum.value]","labelFontStyle":"italic","labelFontSize":15,"tickSize":4,"labelPadding":2}},"y":{"field":"pct","type":"quantitative","stack":"zero","scale":{"domain":[0,100],"range":[463.3,141.7],"nice":false,"zero":false},"axis":{"zindex":1,"title":null,"orient":"left","offset":-137.5,"values":[0,20,40,60,80,100],"labelExpr":"datum.value==0?'':datum.label","labelFontSize":18,"tickSize":6,"labelPadding":4}}}},
{"data":{"values":[{"pos":0,"pct":100,"end":5}]},"mark":{"type":"rule","stroke":"#000","strokeWidth":2},"encoding":{"x":{"field":"pos","type":"quantitative","scale":{"domain":[0,5],"range":[137.5,783],"nice":false,"zero":false}},"x2":{"field":"end"},"y":{"field":"pct","type":"quantitative","scale":{"domain":[0,100],"range":[463.3,141.7],"nice":false,"zero":false}}}},
{"data":{"values":[{"pos":-0.136,"pct":-17,"end":5.19}]},"mark":{"type":"rule","stroke":"#000","strokeWidth":1.5},"encoding":{"x":{"field":"pos","type":"quantitative","scale":{"domain":[0,5],"range":[137.5,783],"nice":false,"zero":false}},"x2":{"field":"end"},"y":{"field":"pct","type":"quantitative","scale":{"domain":[0,100],"range":[463.3,141.7],"nice":false,"zero":false}}}},
{"data":{"values":[{"pos":5.22,"pct":-17}]},"mark":{"type":"point","shape":"triangle-right","filled":true,"color":"#000","size":90},"encoding":{"x":{"field":"pos","type":"quantitative","scale":{"domain":[0,5],"range":[137.5,783],"nice":false,"zero":false}},"y":{"field":"pct","type":"quantitative","scale":{"domain":[0,100],"range":[463.3,141.7],"nice":false,"zero":false}}}},
{"data":{"values":[{"pos":3.025,"pct":-39.7},{"pos":4.43,"pct":-39.7},{"pos":4.43,"pct":-53.8},{"pos":4.72,"pct":-53.8},{"pos":3.76,"pct":-68.6},{"pos":2.73,"pct":-53.8},{"pos":3.025,"pct":-53.8},{"pos":3.025,"pct":-39.7}]},"mark":{"type":"line","order":null,"fill":"#000","stroke":"#000","strokeWidth":0.5},"encoding":{"x":{"field":"pos","type":"quantitative","scale":{"domain":[0,5],"range":[137.5,783],"nice":false,"zero":false}},"y":{"field":"pct","type":"quantitative","scale":{"domain":[0,100],"range":[463.3,141.7],"nice":false,"zero":false}}}},
{"data":{"values":[{"pos":0.23,"pct":-21.4,"t":"River"},{"pos":0.23,"pct":-28.2,"t":"mouth"},{"pos":1.48,"pct":-21.4,"t":"River"},{"pos":1.48,"pct":-28.2,"t":"plume"},{"pos":3.53,"pct":-21.4,"t":"Mixed"},{"pos":3.53,"pct":-28.2,"t":"riverine and marine"},{"pos":3.53,"pct":-35,"t":"influences"},{"pos":4.84,"pct":-21.4,"t":"Out of"},{"pos":4.84,"pct":-28.2,"t":"the river"},{"pos":4.84,"pct":-35,"t":"influence"}]},"mark":{"type":"text","fontSize":18,"fontWeight":"bold","color":"#111"},"encoding":{"text":{"field":"t"},"x":{"field":"pos","type":"quantitative","scale":{"domain":[0,5],"range":[137.5,783],"nice":false,"zero":false}},"y":{"field":"pct","type":"quantitative","scale":{"domain":[0,100],"range":[463.3,141.7],"nice":false,"zero":false}}}},
{"data":{"values":[{"pos":-0.23,"pct":-13.6,"t":"River"},{"pos":-0.23,"pct":-20.1,"t":"mouth"},{"pos":5.33,"pct":-13.6,"t":"Outer"},{"pos":5.33,"pct":-20.1,"t":"shelf"}]},"mark":{"type":"text","fontSize":18,"fontWeight":"bold","fontStyle":"italic","color":"#111"},"encoding":{"text":{"field":"t"},"x":{"field":"pos","type":"quantitative","scale":{"domain":[0,5],"range":[137.5,783],"nice":false,"zero":false}},"y":{"field":"pct","type":"quantitative","scale":{"domain":[0,100],"range":[463.3,141.7],"nice":false,"zero":false}}}},
{"data":{"values":[{"pos":2.49,"pct":111.4,"t":"% Sub-Fossil Thanatofacies (SFTs)"}]},"mark":{"type":"text","fontSize":27.5,"fontWeight":"bold","color":"#111"},"encoding":{"text":{"field":"t"},"x":{"field":"pos","type":"quantitative","scale":{"domain":[0,5],"range":[137.5,783],"nice":false,"zero":false}},"y":{"field":"pct","type":"quantitative","scale":{"domain":[0,100],"range":[463.3,141.7],"nice":false,"zero":false}}}},
{"data":{"values":[{"pos":0.135,"pct":94.9,"t":"(a)"}]},"mark":{"type":"text","fontSize":28,"fontWeight":"bold","color":"#111"},"encoding":{"text":{"field":"t"},"x":{"field":"pos","type":"quantitative","scale":{"domain":[0,5],"range":[137.5,783],"nice":false,"zero":false}},"y":{"field":"pct","type":"quantitative","scale":{"domain":[0,100],"range":[463.3,141.7],"nice":false,"zero":false}}}},
{"data":{"values":[{"pos":-0.647,"pct":-35,"t":"Modern sub-fossil faunas"}]},"mark":{"type":"text","fontSize":27,"fontWeight":"bold","color":"#111","angle":270},"encoding":{"text":{"field":"t"},"x":{"field":"pos","type":"quantitative","scale":{"domain":[0,5],"range":[137.5,783],"nice":false,"zero":false}},"y":{"field":"pct","type":"quantitative","scale":{"domain":[0,100],"range":[463.3,141.7],"nice":false,"zero":false}}}},
{"data":{"values":[{"pos":0,"pct":-69.9},{"pos":1.816,"pct":-39.7},{"pos":1.816,"pct":100},{"pos":5.008,"pct":100},{"pos":5.008,"pct":-69.9}]},"mark":{"type":"line","order":null,"stroke":"#EE2A2A","strokeWidth":4,"strokeJoin":"miter"},"encoding":{"x":{"field":"pos","type":"quantitative","scale":{"domain":[0,5],"range":[137.5,783],"nice":false,"zero":false}},"y":{"field":"pct","type":"quantitative","scale":{"domain":[0,100],"range":[463.3,141.7],"nice":false,"zero":false}}}}
]}
]}
